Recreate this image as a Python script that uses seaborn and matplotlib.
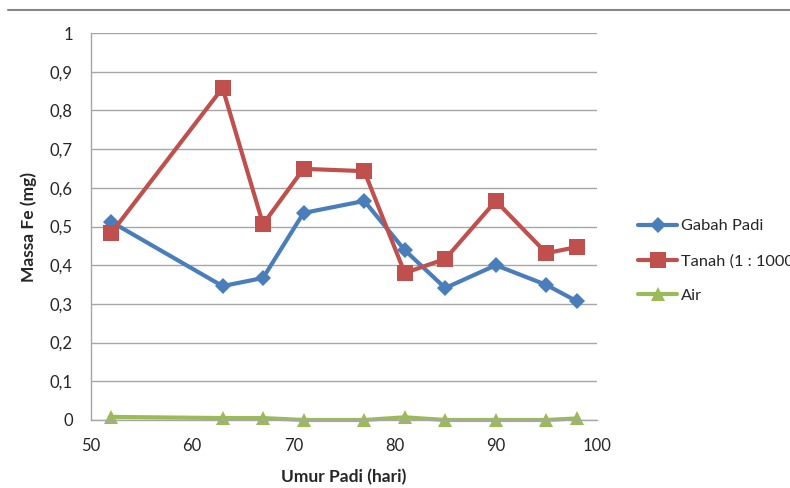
import seaborn as sns
import pandas as pd
import matplotlib
matplotlib.use("Agg")
from matplotlib import pyplot as plt
from matplotlib.lines import Line2D

# data
umur = [52, 63, 67, 71, 77, 81, 85, 90, 95, 98]
gabah_padi = [0.512, 0.346, 0.367, 0.535, 0.566, 0.439, 0.341, 0.400, 0.349, 0.307]
tanah = [0.483, 0.858, 0.506, 0.649, 0.643, 0.380, 0.416, 0.566, 0.431, 0.447]
air = [0.008, 0.005, 0.005, 0.000, 0.000, 0.007, 0.000, 0.000, 0.000, 0.004]

series_names = ["Gabah Padi", "Tanah (1 : 1000)", "Air"]
y_ticks = [0, 0.1, 0.2, 0.3, 0.4, 0.5, 0.6, 0.7, 0.8, 0.9, 1]
y_tick_labels = ["0", "0,1", "0,2", "0,3", "0,4", "0,5", "0,6", "0,7", "0,8", "0,9", "1"]
x_ticks = [50, 60, 70, 80, 90, 100]

COLORS = ["#4A7EBB", "#C0504D", "#9BBB59"]
MARKERS = ["D", "s", "^"]
MSIZES = [8.5, 11, 10]

sns.set_theme(style="white")
plt.rcParams["font.family"] = ["Lato", "DejaVu Sans"]

df = pd.DataFrame({"Umur": umur, series_names[0]: gabah_padi,
                   series_names[1]: tanah, series_names[2]: air})
long = df.melt(id_vars="Umur", var_name="Seri", value_name="Massa")

fig = plt.figure(figsize=(7.9, 4.88), dpi=100)
ax = fig.add_axes([91 / 790, 1 - 420 / 488, (597 - 91) / 790, (420 - 33) / 488])

for name, col, mk, ms in zip(series_names, COLORS, MARKERS, MSIZES):
    sns.lineplot(data=long[long["Seri"] == name], x="Umur", y="Massa", ax=ax,
                 color=col, marker=mk, markersize=ms, markeredgewidth=0,
                 linewidth=3, label=name, clip_on=False)

ax.set_xlim(50, 100)
ax.set_ylim(0, 1)
ax.set_xticks(x_ticks)
ax.set_yticks(y_ticks)
ax.set_yticklabels(y_tick_labels)
ax.tick_params(axis="both", labelsize=12, colors="#262626", length=0)
ax.tick_params(axis="x", pad=13)
ax.tick_params(axis="y", pad=13)
ax.yaxis.grid(True, color="#A6A6A6", linewidth=1)
ax.xaxis.grid(False)
for side in ["top", "right"]:
    ax.spines[side].set_visible(False)
for side in ["left", "bottom"]:
    ax.spines[side].set_color("#A6A6A6")
    ax.spines[side].set_linewidth(1)

ax.set_xlabel("Umur Padi (hari)", fontsize=12.5, fontweight="bold", labelpad=11)
ax.set_ylabel("Massa Fe (mg)", fontsize=12.5, fontweight="bold", labelpad=9)

handles = [Line2D([], [], color=c, marker=m, markersize=s, markeredgewidth=0, linewidth=3)
           for c, m, s in zip(COLORS, MARKERS, MSIZES)]
ax.legend(handles, series_names, loc="center left", bbox_to_anchor=(638 / 790, 1 - 261 / 488),
          bbox_transform=fig.transFigure, frameon=False, fontsize=11.8,
          handlelength=2.4, handletextpad=0.2, labelspacing=1.25, borderaxespad=0,
          borderpad=0)

# outer chart frame line at the top
fig.add_artist(Line2D([8 / 790, 1], [1 - 10 / 488, 1 - 10 / 488], transform=fig.transFigure,
                      color="#868686", linewidth=1.5))

fig.savefig("out.png", dpi=100)
